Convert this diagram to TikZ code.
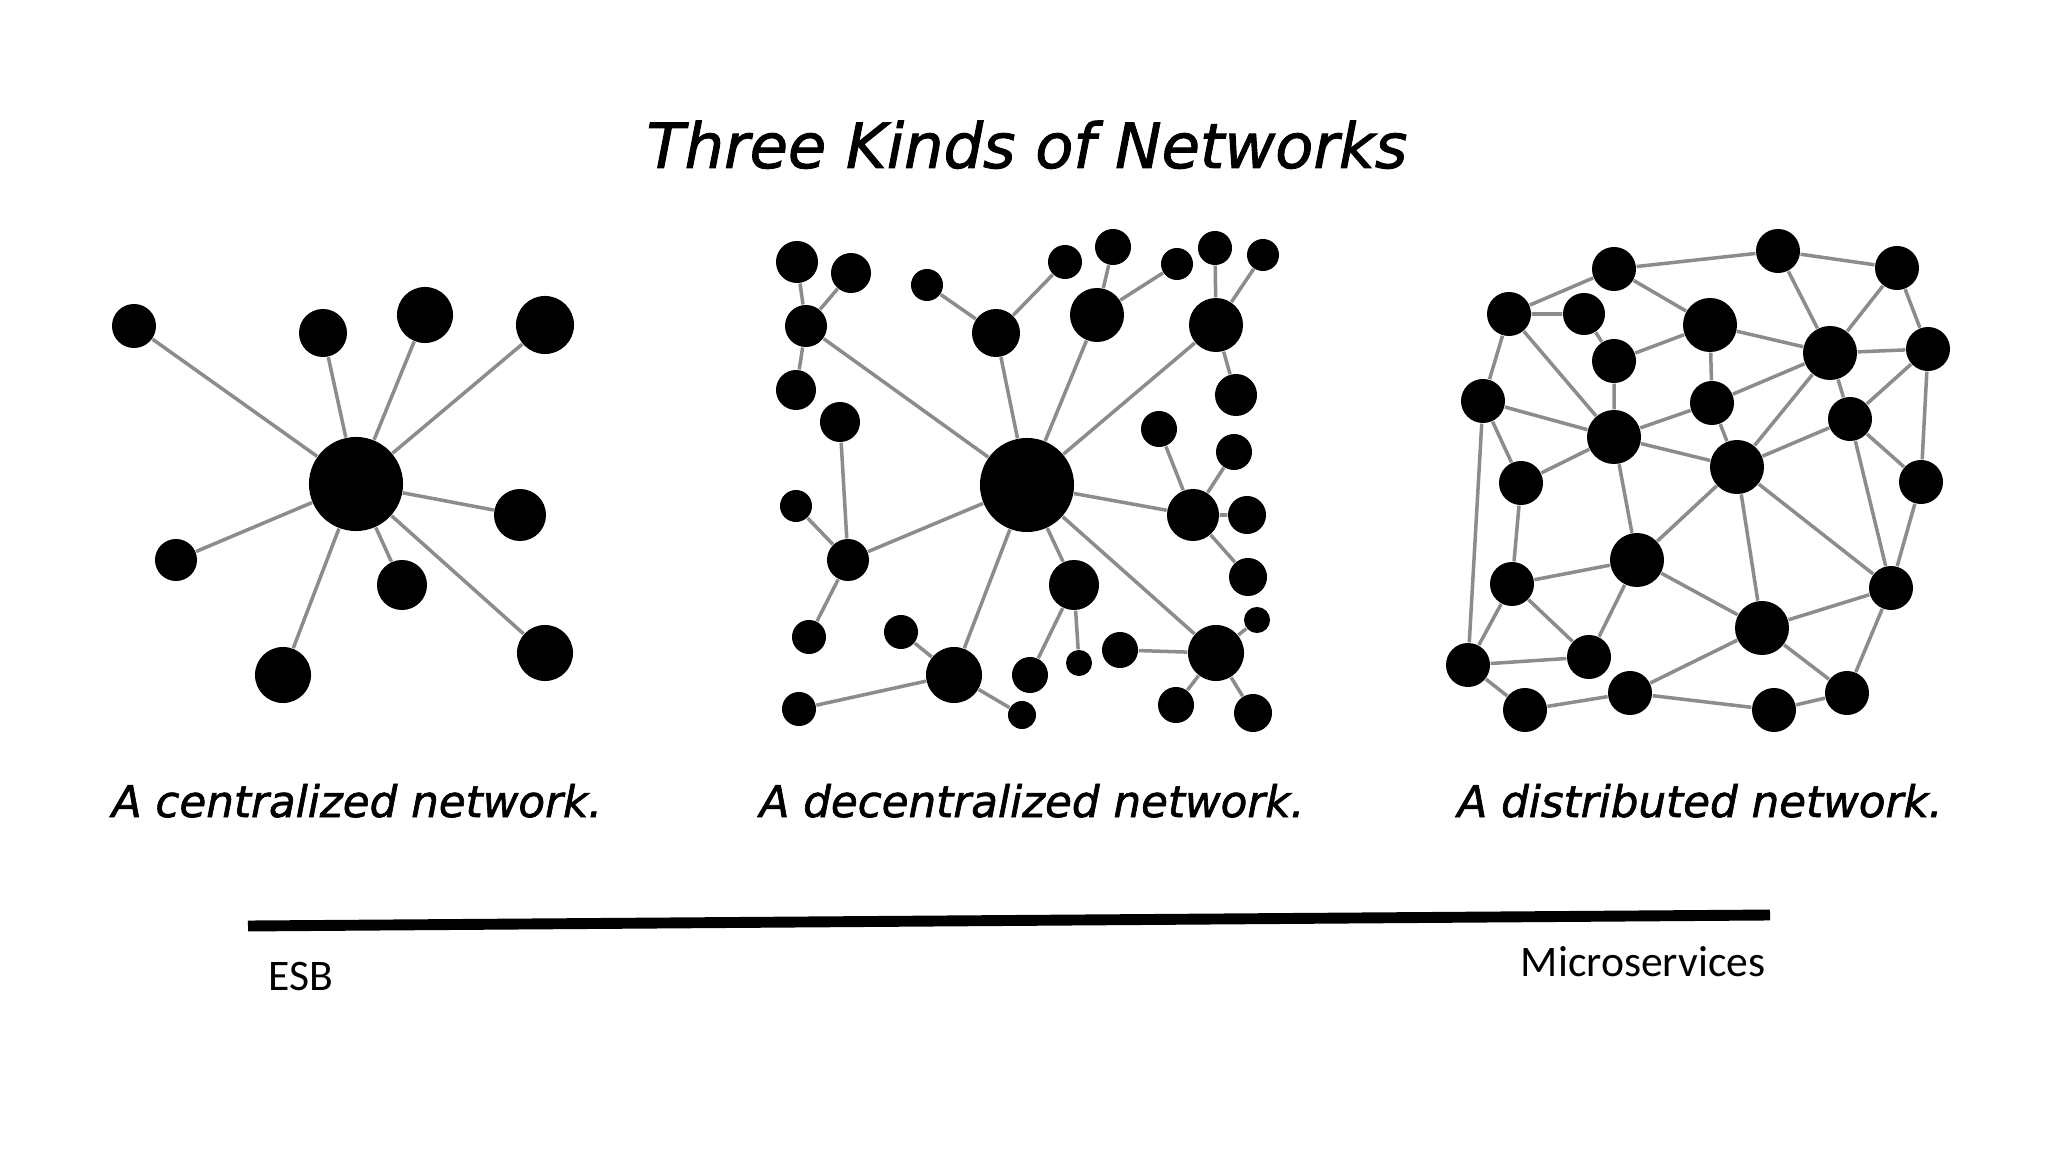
\documentclass[tikz,border=0pt]{standalone}
\usepackage{fontspec}
\newfontfamily\handfont[FakeBold=1.5]{DejaVu Sans}
\newfontfamily\barfont{Carlito}

\begin{document}
\begin{tikzpicture}[x=0.01cm, y=-0.01cm,
  netnode/.style={circle, fill=black, inner sep=0pt, minimum size=#1*0.02cm},
  link/.style={draw=black!45, line width=1pt},
  netcaption/.style={anchor=base, font=\handfont\itshape\fontsize{12.4}{15}\selectfont},
  barlabel/.style={inner sep=0pt, font=\barfont\fontsize{12.4}{15}\selectfont}]
\useasboundingbox (0,0) rectangle (2048,1152);

\node[anchor=base, font=\handfont\itshape\fontsize{17.7}{21}\selectfont] (title) at (1027,168) {Three Kinds of Networks};

% centralized
\node[netnode=47] (cen) at (356,484) {};
\node[netnode=22] (c1) at (134,326) {};
\node[netnode=24] (c2) at (323,333) {};
\node[netnode=28] (c3) at (425,315) {};
\node[netnode=29] (c4) at (545,325) {};
\node[netnode=26] (c5) at (520,515) {};
\node[netnode=21] (c6) at (176,560) {};
\node[netnode=25] (c7) at (402,585) {};
\node[netnode=28] (c8) at (283,675) {};
\node[netnode=28] (c9) at (545,653) {};

\draw[link] (cen) -- (c1) (cen) -- (c2) (cen) -- (c3) (cen) -- (c4) (cen) -- (c5);
\draw[link] (cen) -- (c6) (cen) -- (c7) (cen) -- (c8) (cen) -- (c9);

% decentralized
\node[netnode=47] (dec) at (1027,485) {};
\node[netnode=21] (e1) at (797,262) {};
\node[netnode=20] (e2) at (851,273) {};
\node[netnode=21] (e3) at (806,326) {};
\node[netnode=20] (e4) at (796,390) {};
\node[netnode=20] (e5) at (840,422) {};
\node[netnode=16] (e6) at (796,506) {};
\node[netnode=21] (e7) at (848,560) {};
\node[netnode=17] (e8) at (809,637) {};
\node[netnode=17] (e9) at (799,709) {};
\node[netnode=16] (e10) at (927,285) {};
\node[netnode=24] (e11) at (996,333) {};
\node[netnode=17] (e12) at (1065,262) {};
\node[netnode=18] (e13) at (1113,247) {};
\node[netnode=27] (e14) at (1097,315) {};
\node[netnode=16] (e15) at (1177,264) {};
\node[netnode=17] (e16) at (1215,248) {};
\node[netnode=16] (e17) at (1263,255) {};
\node[netnode=27] (e18) at (1216,325) {};
\node[netnode=21] (e19) at (1236,395) {};
\node[netnode=18] (e20) at (1159,429) {};
\node[netnode=18] (e21) at (1234,452) {};
\node[netnode=26] (e22) at (1193,515) {};
\node[netnode=19] (e23) at (1247,515) {};
\node[netnode=19] (e24) at (1248,577) {};
\node[netnode=13] (e25) at (1257,620) {};
\node[netnode=28] (e26) at (1216,653) {};
\node[netnode=18] (e27) at (1120,650) {};
\node[netnode=18] (e28) at (1176,705) {};
\node[netnode=19] (e29) at (1253,713) {};
\node[netnode=25] (e30) at (1074,585) {};
\node[netnode=13] (e31) at (1079,663) {};
\node[netnode=18] (e32) at (1030,675) {};
\node[netnode=17] (e33) at (901,632) {};
\node[netnode=28] (e34) at (954,675) {};
\node[netnode=14] (e35) at (1022,715) {};

\draw[link] (dec) -- (e3) (dec) -- (e11) (dec) -- (e14) (dec) -- (e18) (dec) -- (e22);
\draw[link] (dec) -- (e26) (dec) -- (e30) (dec) -- (e34) (dec) -- (e7);
\draw[link] (e3) -- (e1) (e3) -- (e2) (e3) -- (e4);
\draw[link] (e7) -- (e5) (e7) -- (e6) (e7) -- (e8);
\draw[link] (e11) -- (e10) (e11) -- (e12);
\draw[link] (e14) -- (e13) (e14) -- (e15);
\draw[link] (e18) -- (e16) (e18) -- (e17) (e18) -- (e19);
\draw[link] (e22) -- (e20) (e22) -- (e21) (e22) -- (e23) (e22) -- (e24);
\draw[link] (e26) -- (e25) (e26) -- (e27) (e26) -- (e28) (e26) -- (e29);
\draw[link] (e30) -- (e31) (e30) -- (e32);
\draw[link] (e34) -- (e33) (e34) -- (e9) (e34) -- (e35);

% distributed
\node[netnode=22] (s1) at (1614,269) {};
\node[netnode=22] (s2) at (1778,251) {};
\node[netnode=22] (s3) at (1897,268) {};
\node[netnode=22] (s4) at (1509,314) {};
\node[netnode=21] (s5) at (1584,314) {};
\node[netnode=27] (s6) at (1710,325) {};
\node[netnode=27] (s7) at (1830,353) {};
\node[netnode=22] (s8) at (1928,349) {};
\node[netnode=22] (s9) at (1614,361) {};
\node[netnode=22] (s10) at (1483,401) {};
\node[netnode=22] (s11) at (1712,403) {};
\node[netnode=27] (s12) at (1614,437) {};
\node[netnode=22] (s13) at (1850,419) {};
\node[netnode=27] (s14) at (1737,467) {};
\node[netnode=22] (s15) at (1521,483) {};
\node[netnode=22] (s16) at (1921,482) {};
\node[netnode=27] (s17) at (1637,560) {};
\node[netnode=22] (s18) at (1512,584) {};
\node[netnode=22] (s19) at (1891,588) {};
\node[netnode=27] (s20) at (1762,628) {};
\node[netnode=22] (s21) at (1468,665) {};
\node[netnode=22] (s22) at (1589,657) {};
\node[netnode=22] (s23) at (1630,693) {};
\node[netnode=22] (s24) at (1525,710) {};
\node[netnode=22] (s25) at (1774,710) {};
\node[netnode=22] (s26) at (1847,693) {};

\draw[link] (s1) -- (s2) (s2) -- (s3) (s1) -- (s4) (s4) -- (s5) (s1) -- (s6);
\draw[link] (s2) -- (s7) (s3) -- (s7) (s3) -- (s8) (s5) -- (s9) (s9) -- (s6);
\draw[link] (s6) -- (s7) (s6) -- (s11) (s7) -- (s8) (s4) -- (s10) (s4) -- (s12);
\draw[link] (s9) -- (s12) (s10) -- (s12) (s10) -- (s15) (s10) -- (s21) (s12) -- (s11);
\draw[link] (s11) -- (s7) (s11) -- (s14) (s12) -- (s15) (s12) -- (s14) (s12) -- (s17);
\draw[link] (s7) -- (s14) (s7) -- (s13) (s8) -- (s13) (s8) -- (s16) (s13) -- (s14);
\draw[link] (s13) -- (s16) (s13) -- (s19) (s16) -- (s19) (s14) -- (s17) (s14) -- (s20);
\draw[link] (s14) -- (s19) (s15) -- (s18) (s18) -- (s17) (s18) -- (s21) (s18) -- (s22);
\draw[link] (s17) -- (s22) (s17) -- (s20) (s20) -- (s19) (s20) -- (s23) (s20) -- (s26);
\draw[link] (s19) -- (s26) (s21) -- (s22) (s21) -- (s24) (s24) -- (s23) (s23) -- (s25);
\draw[link] (s25) -- (s26);

% captions
\node[netcaption] (capc) at (357,817) {A centralized network.};
\node[netcaption] (capd) at (1032,817) {A decentralized network.};
\node[netcaption] (caps) at (1700,817) {A distributed network.};

% scale bar
\coordinate (barl) at (248,926);
\coordinate (barr) at (1770,915);
\draw[line width=3.1pt] (barl) -- (barr);
\node[barlabel, anchor=base west] (esb) at (268,990) {ESB};
\node[barlabel, anchor=base east] (micro) at (1766,976) {Microservices};
\end{tikzpicture}
\end{document}
